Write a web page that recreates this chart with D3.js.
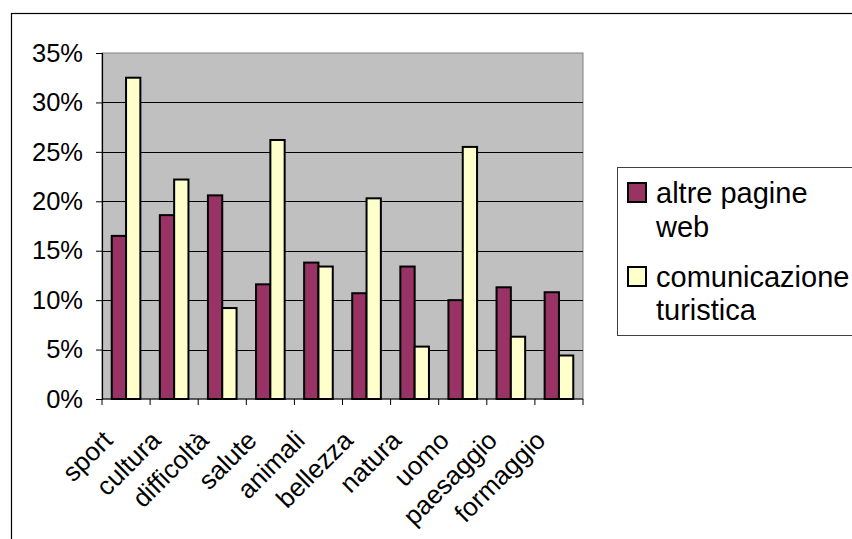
<!DOCTYPE html>
<html>
<head>
<meta charset="utf-8">
<script src="https://cdn.jsdelivr.net/npm/d3@7"></script>
<style>
  html, body { margin: 0; padding: 0; background: #fff; }
  svg { display: block; font-family: "Liberation Sans", Arial, sans-serif; }
</style>
</head>
<body>
<svg id="chart" width="852" height="539"></svg>
<script>
// Word categories and the share of each in the two text corpora
const categories = ["sport", "cultura", "difficoltà", "salute", "animali", "bellezza", "natura", "uomo", "paesaggio", "formaggio"];
const seriesNames = ["altre pagine web", "comunicazione turistica"];
const altrePagineWeb = [16.5, 18.6, 20.6, 11.6, 13.8, 10.7, 13.4, 10.0, 11.3, 10.8];
const comunicazioneTuristica = [32.5, 22.2, 9.2, 26.2, 13.4, 20.3, 5.3, 25.5, 6.3, 4.4];
const yTicks = [0, 5, 10, 15, 20, 25, 30, 35];
const legendLines = [["altre pagine", "web"], ["comunicazione", "turistica"]];
const colors = ["#993366", "#FFFFCC"];

const svg = d3.select("#chart");

// Chart frame (runs off the right and bottom edges)
svg.append("rect")
  .attr("x", 11.5).attr("y", 13.5)
  .attr("width", 900).attr("height", 600)
  .attr("fill", "#fff").attr("stroke", "#000").attr("stroke-width", 1.2);

const plot = { left: 102, top: 53, right: 583, bottom: 399 };

const x0 = d3.scaleBand()
  .domain(categories)
  .range([plot.left, plot.right])
  .paddingInner(0.405)
  .paddingOuter(0.2025);

const x1 = d3.scaleBand()
  .domain(seriesNames)
  .range([0, x0.bandwidth()]);

const y = d3.scaleLinear()
  .domain([0, 35])
  .range([plot.bottom, plot.top]);

// Plot area background
svg.append("rect")
  .attr("x", plot.left).attr("y", plot.top)
  .attr("width", plot.right - plot.left).attr("height", plot.bottom - plot.top)
  .attr("fill", "#C0C0C0").attr("stroke", "#808080").attr("stroke-width", 1);

// Horizontal gridlines
svg.append("g")
  .selectAll("line")
  .data(yTicks.filter(d => d > 0 && d < 35))
  .join("line")
  .attr("x1", plot.left).attr("x2", plot.right)
  .attr("y1", d => Math.round(y(d)) + 0.5).attr("y2", d => Math.round(y(d)) + 0.5)
  .attr("stroke", "#000").attr("stroke-width", 1);

// Bars
const rows = categories.map((c, i) => ({ cat: c, values: [altrePagineWeb[i], comunicazioneTuristica[i]] }));
svg.append("g")
  .selectAll("g")
  .data(rows)
  .join("g")
  .attr("transform", d => `translate(${x0(d.cat)},0)`)
  .selectAll("rect")
  .data(d => d.values.map((v, j) => ({ name: seriesNames[j], v, j })))
  .join("rect")
  .attr("x", d => x1(d.name))
  .attr("y", d => y(d.v))
  .attr("width", x1.bandwidth())
  .attr("height", d => y(0) - y(d.v))
  .attr("fill", d => colors[d.j])
  .attr("stroke", "#000").attr("stroke-width", 2);

// Y axis
const yAxis = d3.axisLeft(y)
  .tickValues(yTicks)
  .tickSize(6)
  .tickPadding(13)
  .tickFormat(d => d + "%");
const gy = svg.append("g")
  .attr("transform", `translate(${plot.left},0)`)
  .call(yAxis);
gy.select(".domain").attr("stroke", "#000").attr("stroke-width", 1.2);
gy.selectAll(".tick line").attr("stroke", "#000");
gy.selectAll(".tick text")
  .attr("font-size", 25.5)
  .attr("font-family", "'Liberation Sans', Arial, sans-serif")
  .attr("fill", "#000");

// X axis: tick marks sit on the category boundaries
const step = x0.step();
const boundaries = d3.range(categories.length + 1).map(i => plot.left + i * step);
svg.append("line")
  .attr("x1", plot.left).attr("x2", plot.right)
  .attr("y1", plot.bottom).attr("y2", plot.bottom)
  .attr("stroke", "#000").attr("stroke-width", 1.2);
svg.append("g")
  .selectAll("line")
  .data(boundaries)
  .join("line")
  .attr("x1", d => d).attr("x2", d => d)
  .attr("y1", plot.bottom).attr("y2", plot.bottom + 6)
  .attr("stroke", "#000");

// Rotated category labels
svg.append("g")
  .selectAll("text")
  .data(categories)
  .join("text")
  .attr("transform", d => `translate(${x0(d) + x0.bandwidth() / 2 - 12},${plot.bottom + 43}) rotate(-45)`)
  .attr("text-anchor", "end")
  .attr("font-size", 26)
  .attr("fill", "#000")
  .text(d => d);

// Legend
const legend = svg.append("g");
legend.append("rect")
  .attr("x", 617.5).attr("y", 167.5)
  .attr("width", 300).attr("height", 168)
  .attr("fill", "#fff").attr("stroke", "#404040").attr("stroke-width", 1);

const legendBaselines = [[203, 237], [287, 320]];
seriesNames.forEach((name, i) => {
  legend.append("rect")
    .attr("x", 628).attr("y", legendBaselines[i][0] - 20)
    .attr("width", 18).attr("height", 19)
    .attr("fill", colors[i]).attr("stroke", "#000").attr("stroke-width", 2);
  legendLines[i].forEach((line, k) => {
    legend.append("text")
      .attr("x", 656).attr("y", legendBaselines[i][k])
      .attr("font-size", 29)
      .attr("fill", "#000")
      .text(line);
  });
});
</script>
</body>
</html>
